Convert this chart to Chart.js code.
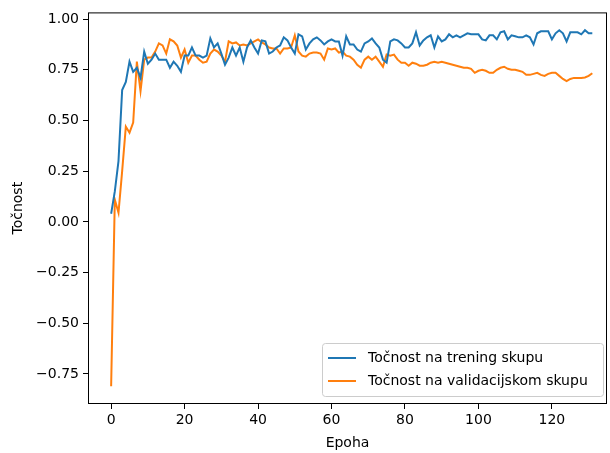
<!DOCTYPE html>
<html>
<head>
<meta charset="utf-8">
<script src="https://cdn.jsdelivr.net/npm/chart.js@4"></script>
<style>
    html, body { margin: 0; padding: 0; background: #fff; }
    #grafica { display: block; }
</style>
</head>
<body>
<canvas id="grafica" width="610" height="453"></canvas>
<script>
"use strict";

// epohe 0..131
const epohe = [
    0, 1, 2, 3, 4, 5, 6, 7, 8, 9, 10, 11, 12, 13, 14, 15, 16, 17, 18, 19,
    20, 21, 22, 23, 24, 25, 26, 27, 28, 29, 30, 31, 32, 33, 34, 35, 36, 37, 38, 39,
    40, 41, 42, 43, 44, 45, 46, 47, 48, 49, 50, 51, 52, 53, 54, 55, 56, 57, 58, 59,
    60, 61, 62, 63, 64, 65, 66, 67, 68, 69, 70, 71, 72, 73, 74, 75, 76, 77, 78, 79,
    80, 81, 82, 83, 84, 85, 86, 87, 88, 89, 90, 91, 92, 93, 94, 95, 96, 97, 98, 99,
    100, 101, 102, 103, 104, 105, 106, 107, 108, 109, 110, 111, 112, 113, 114, 115, 116, 117, 118, 119,
    120, 121, 122, 123, 124, 125, 126, 127, 128, 129, 130, 131,
];

const tocnostTrening = [
    0.04, 0.15, 0.30, 0.65, 0.69, 0.79, 0.74, 0.76, 0.71, 0.84,
    0.78, 0.80, 0.83, 0.80, 0.80, 0.80, 0.76, 0.79, 0.77, 0.74,
    0.82, 0.82, 0.86, 0.82, 0.82, 0.81, 0.82, 0.905, 0.86, 0.88,
    0.83, 0.775, 0.81, 0.86, 0.82, 0.86, 0.79, 0.86, 0.895, 0.86,
    0.83, 0.895, 0.89, 0.83, 0.84, 0.86, 0.87, 0.91, 0.895, 0.86,
    0.83, 0.925, 0.915, 0.85, 0.88, 0.90, 0.91, 0.895, 0.875, 0.89,
    0.90, 0.89, 0.89, 0.82, 0.915, 0.875, 0.875, 0.85, 0.84, 0.88,
    0.89, 0.905, 0.88, 0.86, 0.80, 0.785, 0.89, 0.90, 0.895, 0.88,
    0.86, 0.86, 0.88, 0.935, 0.87, 0.895, 0.91, 0.92, 0.86, 0.915,
    0.89, 0.90, 0.925, 0.91, 0.92, 0.91, 0.92, 0.93, 0.925, 0.925,
    0.925, 0.90, 0.895, 0.92, 0.92, 0.90, 0.935, 0.94, 0.90, 0.92,
    0.915, 0.91, 0.91, 0.92, 0.91, 0.875, 0.93, 0.94, 0.94, 0.94,
    0.90, 0.93, 0.945, 0.93, 0.89, 0.935, 0.935, 0.935, 0.925, 0.945,
    0.93, 0.93,
];

const tocnostValidacija = [
    -0.81, 0.11, 0.045, 0.25, 0.47, 0.44, 0.49, 0.79, 0.645, 0.80,
    0.81, 0.81, 0.84, 0.88, 0.87, 0.83, 0.90, 0.89, 0.87, 0.81,
    0.85, 0.785, 0.82, 0.82, 0.80, 0.785, 0.79, 0.83, 0.85, 0.84,
    0.82, 0.79, 0.89, 0.88, 0.885, 0.87, 0.875, 0.87, 0.88, 0.89,
    0.90, 0.885, 0.875, 0.86, 0.855, 0.855, 0.83, 0.855, 0.855, 0.86,
    0.92, 0.84, 0.82, 0.815, 0.83, 0.835, 0.835, 0.83, 0.80, 0.855,
    0.85, 0.855, 0.835, 0.84, 0.82, 0.815, 0.80, 0.775, 0.76, 0.80,
    0.815, 0.80, 0.815, 0.79, 0.765, 0.825, 0.82, 0.825, 0.80, 0.785,
    0.785, 0.77, 0.785, 0.78, 0.77, 0.77, 0.775, 0.785, 0.79, 0.785,
    0.79, 0.785, 0.78, 0.775, 0.77, 0.765, 0.76, 0.76, 0.755, 0.735,
    0.745, 0.75, 0.745, 0.735, 0.735, 0.75, 0.76, 0.765, 0.755, 0.75,
    0.75, 0.745, 0.74, 0.725, 0.725, 0.73, 0.735, 0.725, 0.72, 0.73,
    0.735, 0.735, 0.72, 0.705, 0.694, 0.705, 0.71, 0.71, 0.71, 0.712,
    0.72, 0.733,
];

const oznakeSerija = ["Točnost na trening skupu", "Točnost na validacijskom skupu"];
const bojeSerija = ["#1f77b4", "#ff7f0e"];

const ticksX = [0, 20, 40, 60, 80, 100, 120];
const ticksY = [-0.75, -0.5, -0.25, 0, 0.25, 0.5, 0.75, 1.0];

const FONT = "'DejaVu Sans', sans-serif";

/**
 * Okvir oko grafa i legenda u donjem desnom kutu
 */
const okvirPlugin = {
    id: "okvir",
    afterDraw(chart) {
        const { ctx, chartArea: a } = chart;
        ctx.save();
        ctx.strokeStyle = "#000";
        ctx.lineWidth = 1;
        ctx.strokeRect(a.left + 0.5, a.top + 0.5, a.right - a.left - 1, a.bottom - a.top - 1);

        // legenda
        const w = 281, h = 53;
        const x = a.right - 4 - w;
        const y = a.bottom - 8 - h;
        ctx.beginPath();
        ctx.roundRect(x + 0.5, y + 0.5, w, h, 3);
        ctx.fillStyle = "rgba(255,255,255,0.8)";
        ctx.fill();
        ctx.strokeStyle = "#cccccc";
        ctx.stroke();

        ctx.font = "14px " + FONT;
        ctx.textBaseline = "middle";
        ctx.textAlign = "left";
        chart.data.datasets.forEach((ds, i) => {
            const ly = y + 15 + i * 23;
            ctx.beginPath();
            ctx.moveTo(x + 6, ly);
            ctx.lineTo(x + 34, ly);
            ctx.strokeStyle = ds.borderColor;
            ctx.lineWidth = 2;
            ctx.stroke();
            ctx.fillStyle = "#000";
            ctx.fillText(ds.label, x + 46, ly);
        });
        ctx.restore();
    },
};

const skupovi = [tocnostTrening, tocnostValidacija].map((serija, i) => ({
    label: oznakeSerija[i],
    data: serija.map((v, j) => ({ x: epohe[j], y: v })),
    borderColor: bojeSerija[i],
    backgroundColor: bojeSerija[i],
    borderWidth: 2,
    pointRadius: 0,
    tension: 0,
    fill: false,
}));

new Chart(document.querySelector("#grafica"), {
    type: "line",
    data: { datasets: skupovi },
    options: {
        responsive: false,
        animation: false,
        layout: { padding: { left: 0, top: 11, right: 3, bottom: 0 } },
        plugins: {
            legend: { display: false },
            tooltip: { enabled: false },
        },
        scales: {
            x: {
                type: "linear",
                min: -6.3,
                max: 135,
                afterBuildTicks: (scale) => {
                    scale.ticks = ticksX.map((v) => ({ value: v }));
                },
                afterFit: (scale) => {
                    scale.height = 49;
                },
                grid: {
                    drawOnChartArea: false,
                    tickLength: 5,
                    color: "#000",
                },
                border: { display: false },
                ticks: {
                    padding: 3,
                    color: "#000",
                    font: { family: FONT, size: 14 },
                    maxRotation: 0,
                    callback: (v) => String(v),
                },
                title: {
                    display: true,
                    text: "Epoha",
                    color: "#000",
                    font: { family: FONT, size: 14 },
                    padding: { top: 0, bottom: 1 },
                },
            },
            y: {
                type: "linear",
                min: -0.898,
                max: 1.033,
                afterBuildTicks: (scale) => {
                    scale.ticks = ticksY.map((v) => ({ value: v }));
                },
                afterFit: (scale) => {
                    scale.width = 88;
                },
                grid: {
                    drawOnChartArea: false,
                    tickLength: 5,
                    color: "#000",
                },
                border: { display: false },
                ticks: {
                    padding: 4,
                    color: "#000",
                    font: { family: FONT, size: 14 },
                    callback: (v) => v.toFixed(2).replace("-", "\u2212"),
                },
                title: {
                    display: true,
                    text: "Točnost",
                    color: "#000",
                    font: { family: FONT, size: 14 },
                    padding: { top: 10, bottom: 0 },
                },
            },
        },
    },
    plugins: [okvirPlugin],
});
</script>
</body>
</html>
